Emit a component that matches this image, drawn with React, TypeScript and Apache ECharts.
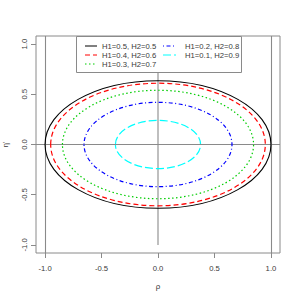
import React, { useEffect, useRef } from "react";
import * as echarts from "echarts";

const seriesNames = [
  "H1=0.5, H2=0.5",
  "H1=0.4, H2=0.6",
  "H1=0.3, H2=0.7",
  "H1=0.2, H2=0.8",
  "H1=0.1, H2=0.9",
];
const semiAxisX = [1.0, 0.95, 0.846, 0.655, 0.377];
const semiAxisY = [0.635, 0.61, 0.54, 0.42, 0.24];
const colors = ["#000000", "#FF0000", "#00CD00", "#0000FF", "#00FFFF"];
const dashes: (number[] | null)[] = [null, [5, 3], [1.5, 2.5], [1, 2.5, 4, 2.5], [8, 3]];
const tickValues = [-1, -0.5, 0, 0.5, 1];
const refLinesV = [-1, 1];
const refLinesH = [0];
const centerSegment = [
  [0, -1],
  [0, 1],
];

const FONT = "Liberation Sans, Arial, sans-serif";
const TXT = "#3a3a3a";
const GRAY = "#8a8a8a";
const LW = 1;

export default function App() {
  const ref = useRef<HTMLDivElement>(null);
  useEffect(() => {
    document.body.style.margin = "0";
    if (!ref.current) return;
    const chart = echarts.init(ref.current, undefined, { renderer: "svg" });

    const ellipseSeries = seriesNames.map((name, i) => ({
      type: "custom",
      name,
      coordinateSystem: "cartesian2d",
      data: [[semiAxisX[i], semiAxisY[i]]],
      silent: true,
      z: 3 + (seriesNames.length - i),
      renderItem: (_p: any, api: any) => {
        const c = api.coord([0, 0]);
        const s = api.size([api.value(0), api.value(1)]);
        return {
          type: "ellipse",
          shape: { cx: c[0], cy: c[1], rx: s[0], ry: s[1] },
          style: {
            fill: "none",
            stroke: colors[i],
            lineWidth: i === 0 ? 1.1 : 1.2,
            lineDash: dashes[i] || undefined,
          },
        };
      },
    }));

    const legendItems: any[] = [];
    const colX = [
      { x1: 85, x2: 97, tx: 102 },
      { x1: 163, x2: 176, tx: 185 },
    ];
    const rowY = [46, 55, 64];
    seriesNames.forEach((name, i) => {
      const col = i < 3 ? 0 : 1;
      const row = i < 3 ? i : i - 3;
      const cx = colX[col];
      legendItems.push({
        type: "line",
        shape: { x1: cx.x1, y1: rowY[row], x2: cx.x2, y2: rowY[row] },
        style: { stroke: colors[i], lineWidth: LW, lineDash: dashes[i] || undefined },
        z: 101,
      });
      legendItems.push({
        type: "text",
        x: cx.tx,
        y: rowY[row],
        style: {
          text: name,
          fill: TXT,
          font: `7.7px ${FONT}`,
          verticalAlign: "middle",
        },
        z: 101,
      });
    });

    const axisCommon = {
      type: "value",
      min: -1.08,
      max: 1.08,
      nameLocation: "middle",
      nameTextStyle: { color: TXT, fontFamily: FONT, fontSize: 8 },
      axisLine: { show: false, onZero: false },
      splitLine: { show: false },
      axisTick: {
        show: true,
        length: 5,
        customValues: tickValues,
        lineStyle: { color: GRAY },
      },
    };

    chart.setOption({
      animation: false,
      backgroundColor: "#ffffff",
      grid: {
        left: 36,
        right: 20,
        top: 36,
        bottom: 47,
        containLabel: false,
        outerBoundsMode: "none",
        show: true,
        borderColor: GRAY,
        borderWidth: 1,
        backgroundColor: "transparent",
      },
      xAxis: {
        ...axisCommon,
        name: "ρ",
        nameGap: 29,
        axisLabel: {
          customValues: tickValues,
          margin: 11,
          color: TXT,
          fontFamily: FONT,
          fontSize: 7.7,
          formatter: (v: number) => v.toFixed(1),
        },
      },
      yAxis: {
        ...axisCommon,
        name: "η'",
        nameRotate: 90,
        nameGap: 27,
        axisLabel: {
          customValues: tickValues,
          rotate: 90,
          margin: 8,
          color: TXT,
          fontFamily: FONT,
          fontSize: 7.7,
          formatter: (v: number) => v.toFixed(1),
        },
      },
      series: [
        {
          type: "line",
          name: "ref",
          data: centerSegment,
          symbol: "none",
          silent: true,
          z: 1,
          lineStyle: { color: GRAY, width: 1.1 },
          markLine: {
            silent: true,
            symbol: "none",
            label: { show: false },
            lineStyle: { color: GRAY, width: 1.1, type: "solid" },
            data: [
              ...refLinesV.map((v) => ({ xAxis: v })),
              ...refLinesH.map((v) => ({ yAxis: v })),
            ],
          },
        },
        ...ellipseSeries,
      ],
      graphic: [
        {
          type: "rect",
          shape: { x: 76.5, y: 36.5, width: 165, height: 36 },
          style: { fill: "#ffffff", stroke: GRAY, lineWidth: 1 },
          z: 100,
        },
        ...legendItems,
      ],
    });
    return () => chart.dispose();
  }, []);
  return <div ref={ref} style={{ width: 300, height: 300 }} />;
}
